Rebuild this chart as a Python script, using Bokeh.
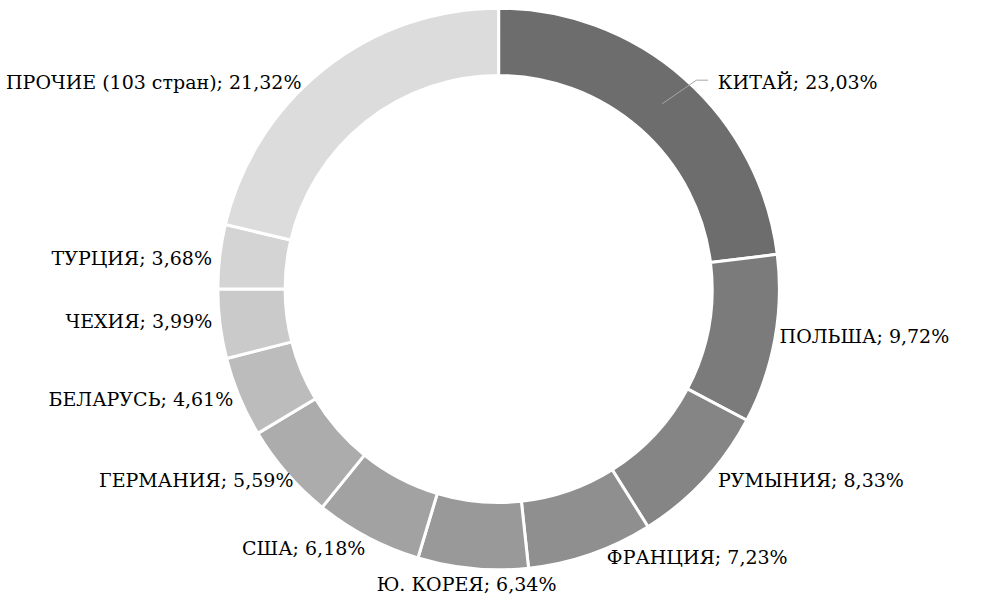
import math
from bokeh.plotting import figure
from bokeh.models import ColumnDataSource, Range1d
from bokeh.core.properties import value
from bokeh.embed import file_html
from bokeh.resources import INLINE

# ---- data ----
countries = ["КИТАЙ", "ПОЛЬША", "РУМЫНИЯ", "ФРАНЦИЯ", "Ю. КОРЕЯ", "США",
             "ГЕРМАНИЯ", "БЕЛАРУСЬ", "ЧЕХИЯ", "ТУРЦИЯ", "ПРОЧИЕ (103 стран)"]
shares = [23.03, 9.72, 8.33, 7.23, 6.34, 6.18, 5.59, 4.61, 3.99, 3.68, 21.32]

# ---- style / layout ----
colors = ["#6d6d6d", "#7b7b7b", "#858585", "#8f8f8f", "#999999", "#a2a2a2",
          "#acacac", "#bcbcbc", "#cacaca", "#d4d4d4", "#dcdcdc"]
FONT = "DejaVu Serif"
FONT_SIZE = "19px"

W, H = 968, 598
S = 0.975            # overall scale
OFF = -4             # offset (px)
cx = 515 * S + OFF
cy = H - (300 * S + OFF)
R_OUT, R_IN = 288 * S, 219 * S
R_LABEL = 296 * S
# label nudges in px (dx right, dy down), layout only
nudge = [(0, 0), (-3, -5), (8, -5.5), (14, -5), (-5.6, 8), (1.5, 3.4),
         (13, 2), (1, -1), (0, -3.6), (0, 2.5), (-18.5, 20)]

total = sum(shares)
starts, ends, mids = [], [], []
cum = 0.0
for s in shares:
    a0 = cum / total
    cum += s
    a1 = cum / total
    starts.append(math.pi / 2 - a0 * 2 * math.pi)
    ends.append(math.pi / 2 - a1 * 2 * math.pi)
    mids.append((a0 + a1) / 2 * 2 * math.pi)  # clockwise from top

src = ColumnDataSource(dict(x=[cx] * len(shares), y=[cy] * len(shares),
                            start=starts, end=ends, color=colors))

p = figure(width=W, height=H, output_backend="svg", toolbar_location=None,
           x_range=Range1d(0, W), y_range=Range1d(0, H), min_border=0,
           background_fill_color="white", border_fill_color="white")
p.axis.visible = False
p.grid.visible = False
p.outline_line_color = None

p.annular_wedge(x="x", y="y", inner_radius=R_IN, outer_radius=R_OUT,
                start_angle="start", end_angle="end", direction="clock",
                fill_color="color", line_color="white", line_width=3, source=src)

lx, ly, ltxt, lalign = [], [], [], []
for i, (name, s, th) in enumerate(zip(countries, shares, mids)):
    txt = name + "; " + f"{s:.2f}".replace(".", ",") + "%"
    sn, cs = math.sin(th), math.cos(th)
    if i == 0:
        rm = (R_IN + R_OUT) / 2
        x0, y0 = cx + rm * sn, cy + rm * cs
        th2 = th + math.radians(2)
        r2 = 295 * S
        x1, y1 = cx + r2 * math.sin(th2), cy + r2 * math.cos(th2)
        x2 = x1 + 12 * S
        p.line([x0, x1, x2], [y0, y1, y1], line_color="#a6a6a6", line_width=1)
        lx.append(x2 + 10 * S); ly.append(y1 - 2 * S); ltxt.append(txt); lalign.append("left")
        continue
    dx, dy = nudge[i]
    x = cx + R_LABEL * sn + dx * S
    y = cy + R_LABEL * cs - dy * S
    if sn > 0.2:
        al = "left"
    elif sn < -0.2:
        al = "right"
    else:
        al = "center"
    lx.append(x); ly.append(y); ltxt.append(txt); lalign.append(al)

lsrc = ColumnDataSource(dict(x=lx, y=ly, t=ltxt, a=lalign))
p.text(x="x", y="y", text="t", text_align="a", text_baseline="middle",
       text_font=value(FONT), text_font_size=FONT_SIZE, text_color="black",
       source=lsrc)

open("out.html", "w").write(file_html(p, INLINE))
